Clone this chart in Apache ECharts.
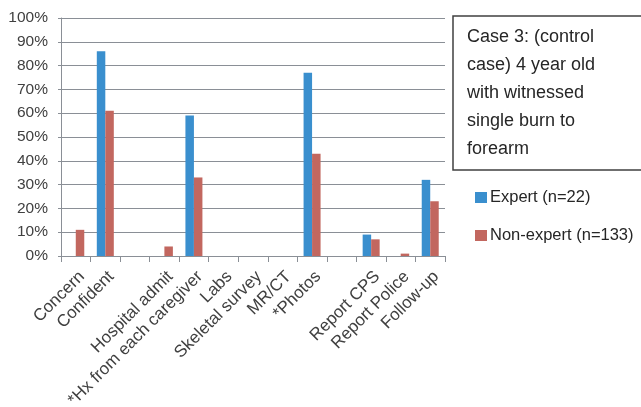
<!DOCTYPE html>
<html><head><meta charset="utf-8">
<script src="https://cdn.jsdelivr.net/npm/echarts@6/dist/echarts.min.js"></script>
<style>html,body{margin:0;padding:0;background:#fff}#c{width:641px;height:407px}</style>
</head><body><div id="c"></div>
<script>
const categories = ['Concern','Confident','','Hospital admit','*Hx from each caregiver','Labs','Skeletal survey','MR/CT','*Photos','','Report CPS','Report Police','Follow-up'];
const expert = [0,86,null,0,59,0,0,0,77,null,9,0,32];
const nonExpert = [11,61,null,4,33,0,0,0,43,null,7,1,23];
const yTicks = [0,10,20,30,40,50,60,70,80,90,100];
const seriesNames = ['Expert (n=22)','Non-expert (n=133)'];
const boxLines = ['Case 3: (control','case) 4 year old','with witnessed','single burn to','forearm'];

const FONT = '"Liberation Sans", Arial, sans-serif';
const chart = echarts.init(document.getElementById('c'), null, {renderer:'canvas'});
chart.setOption({
  animation:false,
  grid:{left:61,right:196,top:18,bottom:151,containLabel:false,outerBoundsMode:'none'},
  xAxis:{type:'category',data:categories,boundaryGap:true,
    axisLine:{lineStyle:{color:'#8a8f96',width:1}},
    axisTick:{show:true,interval:0,length:6,lineStyle:{color:'#8a8f96'}},
    axisLabel:{interval:0,rotate:45,margin:12,verticalAlign:'top',color:'#404040',fontFamily:FONT,fontSize:17}},
  yAxis:{type:'value',min:0,max:100,interval:10,
    axisLine:{show:true,lineStyle:{color:'#8a8f96',width:1}},
    axisTick:{show:true,length:3,lineStyle:{color:'#8a8f96'}},
    splitLine:{lineStyle:{color:'#8a8f96',width:1}},
    axisLabel:{formatter:v=>v+'%',margin:13,color:'#404040',fontFamily:FONT,fontSize:15.5}},
  legend:{orient:'vertical',left:475,top:189,padding:0,itemWidth:12,itemHeight:11,itemGap:21,
    icon:'rect',textStyle:{color:'#262626',fontFamily:FONT,fontSize:16.5,padding:[0,0,0,-2]},
    data:seriesNames},
  series:[
    {name:seriesNames[0],type:'bar',data:expert,barWidth:8.5,barGap:'0%',itemStyle:{color:'#3a8fce'}},
    {name:seriesNames[1],type:'bar',data:nonExpert,barWidth:8.5,barGap:'0%',itemStyle:{color:'#c2675f'}}
  ],
  graphic:[
    {type:'rect',shape:{x:453,y:16,width:200,height:154},style:{fill:'#fff',stroke:'#404040',lineWidth:1.5}},
    {type:'text',style:{x:467,y:23,text:boxLines.join('\n'),fill:'#262626',font:'18px '+FONT,lineHeight:28}}
  ]
});
</script></body></html>
